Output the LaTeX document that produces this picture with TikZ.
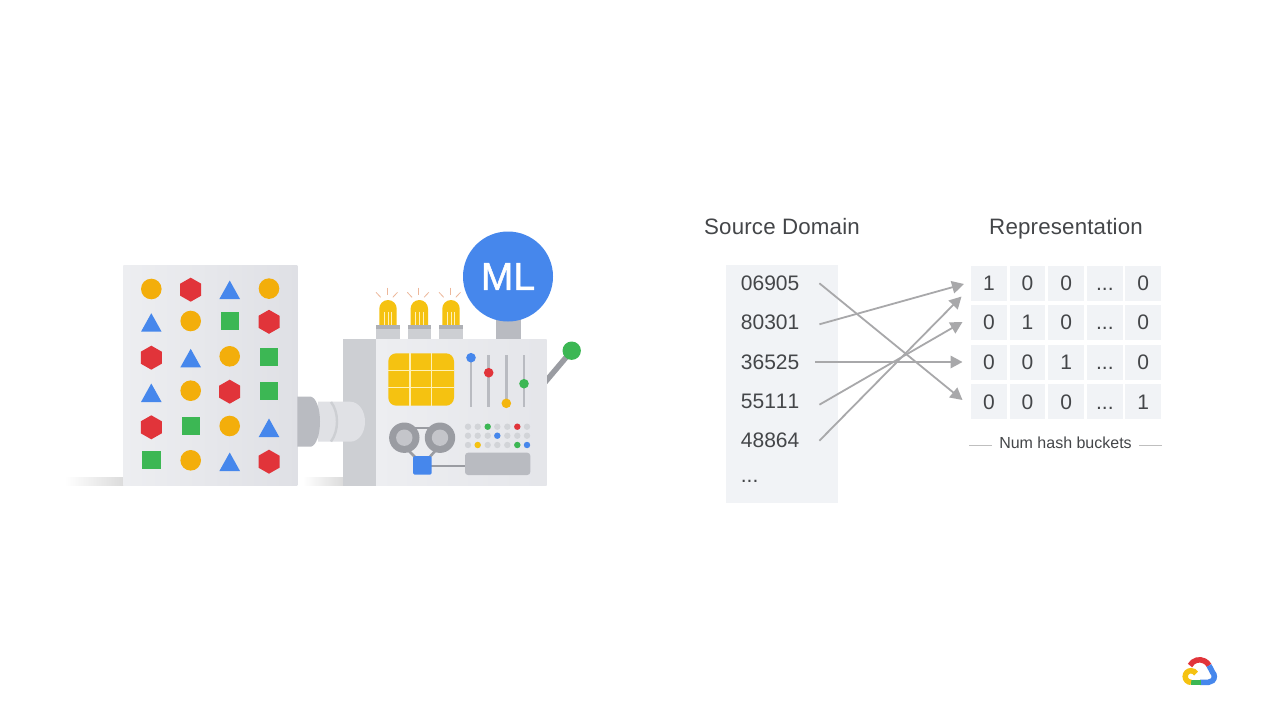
\documentclass[tikz,border=0pt]{standalone}
\usepackage{fontspec}
\setmainfont{Liberation Sans}[Kerning=Off]
\newfontfamily\headfont{Liberation Sans}[LetterSpace=0.8]
\newfontfamily\mlfont{Liberation Sans}[FakeBold=1.2]
\definecolor{gblue}{HTML}{4687EC}
\definecolor{gred}{HTML}{E1343A}
\definecolor{ggreen}{HTML}{3CB754}
\definecolor{gamber}{HTML}{F3AE0B}
\definecolor{gyell}{HTML}{F5C211}
\definecolor{cream}{HTML}{FFF1B8}
\definecolor{panelL}{HTML}{EDEEF1}
\definecolor{panelR}{HTML}{DFE0E5}
\definecolor{tubeg}{HTML}{E0E1E5}
\definecolor{darkg}{HTML}{B9BBC1}
\definecolor{midg}{HTML}{CDCFD3}
\definecolor{reelg}{HTML}{9A9CA2}
\definecolor{dotg}{HTML}{D2D4D8}
\definecolor{cellc}{HTML}{F1F3F6}
\definecolor{arrowc}{HTML}{A8A8AA}
\definecolor{txt}{HTML}{444649}
\definecolor{rayc}{HTML}{EDB79A}
\usetikzlibrary{arrows.meta}
\tikzset{
  x=1pt,y=-1pt,
  hexshape/.pic={\fill[gred] (0,-12)--(10.5,-6)--(10.5,6)--(0,12)--(-10.5,6)--(-10.5,-6)--cycle;},
  cirshape/.pic={\fill[gamber] (0,0) circle[radius=10.3];},
  trishape/.pic={\fill[gblue] (0,-8.5)--(10.3,10)--(-10.3,10)--cycle;},
  squshape/.pic={\fill[ggreen] (-9.2,-9.2) rectangle (9.2,9.2);},
  dotgray/.style={fill=dotg},
  slidertrack/.style={draw=darkg,line width=2.8pt},
  basecap/.style={fill=midg},
  ray/.style={draw=rayc,line width=0.8pt},
  belt/.style={draw=reelg,line width=2.6pt},
  digit/.style={font=\fontsize{21}{24}\selectfont,text=txt,inner sep=0pt},
  srctext/.style={digit,anchor=west,text width=78.3pt,align=left,minimum height=20pt},
  cell/.style={fill=cellc,minimum width=35.7pt,minimum height=35pt,inner sep=0pt,font=\fontsize{21}{24}\selectfont,text=txt},
  head/.style={font=\headfont\fontsize{22.3}{26}\selectfont,text=txt,inner sep=0pt,anchor=base},
  hasharrow/.style={draw=arrowc,line width=1.8pt,-{Triangle[length=12pt,width=12.5pt]}},
  tickline/.style={draw=black!25,line width=1pt},
  logoline/.style={line width=5.5pt},
}
\begin{document}
\begin{tikzpicture}
\useasboundingbox (0,0) rectangle (1280,720);
\fill[white] (0,0) rectangle (1280,720);
% floor shadows
\shade[left color=white,right color=black!14] (65,477) rectangle (123.5,485.7);
\shade[left color=white,right color=black!14] (303,477) rectangle (343,485.7);
% shapes panel
\shade[left color=panelL,right color=panelR] (123.3,265.3) rectangle (297.3,485.7);
\pic at (151.3,289) {cirshape}; \pic at (190.7,289.7) {hexshape}; \pic at (229.7,289) {trishape}; \pic at (269,288.6) {cirshape};
\pic at (151.3,321.7) {trishape}; \pic at (190.7,321) {cirshape}; \pic at (229.7,321) {squshape}; \pic at (269,321.8) {hexshape};
\pic at (151.3,357.7) {hexshape}; \pic at (190.7,357.3) {trishape}; \pic at (229.7,356.3) {cirshape}; \pic at (269,356.7) {squshape};
\pic at (151.3,392) {trishape}; \pic at (190.7,390.7) {cirshape}; \pic at (229.7,391.7) {hexshape}; \pic at (269,390.7) {squshape};
\pic at (151.3,427.3) {hexshape}; \pic at (190.7,426) {squshape}; \pic at (229.7,426) {cirshape}; \pic at (269,427) {trishape};
\pic at (151.3,460) {squshape}; \pic at (190.7,460.3) {cirshape}; \pic at (229.7,461) {trishape}; \pic at (269,461.7) {hexshape};
% lever
\draw[reelg,line width=5.5pt] (541,387) -- (571.7,350.7);
\fill[ggreen] (571.7,350.7) circle[radius=9.2];
% stem and ML head
\fill[darkg] (495.7,315) rectangle (520.7,339.5);
\node[circle,fill=gblue,minimum size=90pt,inner sep=0pt,text=white,font=\mlfont\fontsize{39}{40}\selectfont] (ml) at (508,276.5) {ML};
% bulbs
\foreach \bx in {388,419.3,451}{
  \fill[gyell] (\bx-8.7,326) -- (\bx-8.7,308.7) arc[start angle=180,end angle=360,radius=8.7] -- (\bx+8.7,326) -- cycle;
  \draw[cream,line width=0.9pt] (\bx-3.7,311.7) -- (\bx-3.7,326) (\bx,311.7) -- (\bx,326) (\bx+3.7,311.7) -- (\bx+3.7,326);
  \fill[basecap] (\bx-11.7,328) rectangle (\bx+11.7,339.5);
  \fill[reelg!80!white] (\bx-11.7,325.3) rectangle (\bx+11.7,328.5);
  \draw[ray] (\bx-1,287.7) -- (\bx-1,295);
  \draw[ray] (\bx-12,292.3) -- (\bx-7.3,297.3);
  \draw[ray] (\bx+9.5,292.3) -- (\bx+4.8,297.3);
}
% machine body
\fill[midg] (342.7,339) rectangle (376,485.7);
\shade[left color=panelL,right color=panelR!60!panelL] (376,339) rectangle (546.7,485.7);
% tube
\fill[tubeg] (318,401.7) -- (350,401.7) .. controls (359,401.7) and (365,411) .. (365,421.7) .. controls (365,432.5) and (359,441.7) .. (350,441.7) -- (318,441.7) -- cycle;
\draw[midg,line width=2.4pt] (331,402) .. controls (339,412) and (339,431) .. (331,441.5);
\fill[darkg] (297.3,396.7) -- (311,396.7) .. controls (316,398) and (320,408) .. (320,421.7) .. controls (320,435) and (316,445.5) .. (311,446.7) -- (297.3,446.7) -- cycle;
% chip
\fill[gyell,rounded corners=8pt] (388.3,353.3) rectangle (454,405.7);
\draw[cream,line width=1.2pt] (410,353.3) -- (410,405.7) (431.7,353.3) -- (431.7,405.7) (388.3,370.7) -- (454,370.7) (388.3,387.7) -- (454,387.7);
% sliders
\draw[slidertrack] (471,357) -- (471,406.7);
\draw[slidertrack] (488.7,355) -- (488.7,406.7);
\draw[slidertrack] (506.3,355) -- (506.3,406.7);
\draw[slidertrack] (524,355) -- (524,406.7);
\fill[gblue] (471,357.7) circle[radius=4.8];
\fill[gred] (488.7,372.7) circle[radius=4.8];
\fill[gamber!60!gyell] (506.3,403.3) circle[radius=4.8];
\fill[ggreen] (524,383.7) circle[radius=4.8];
% reels and belts
\draw[belt] (404.3,428) -- (440,428);
\draw[belt] (408,450) -- (418,460) (436,450) -- (427,460);
\draw[belt] (431,466) -- (466,466);
\fill[reelg] (404.3,437.7) circle[radius=15.2];
\fill[reelg] (440,437.7) circle[radius=15.2];
\fill[darkg!85!white] (404.3,437.7) circle[radius=8.2];
\fill[darkg!85!white] (440,437.7) circle[radius=8.2];
\fill[gblue,rounded corners=1.5pt] (413,456) rectangle (431.7,474.7);
\fill[darkg,rounded corners=3pt] (465,452.7) rectangle (530.3,475);
% dots
\foreach \dx in {468,477.7,487.7,497.3,507.3,517.3,527}{\foreach \dy in {426.7,435.7,445}{\fill[dotgray] (\dx,\dy) circle[radius=3.2];}}
\fill[ggreen] (487.7,426.7) circle[radius=3.2];
\fill[gred] (517.3,426.7) circle[radius=3.2];
\fill[gblue] (497.3,435.7) circle[radius=3.2];
\fill[gyell] (477.7,445) circle[radius=3.2];
\fill[ggreen] (517.3,445) circle[radius=3.2];
\fill[gblue] (527,445) circle[radius=3.2];
% source domain
\node[head] (hsrc) at (782,234) {Source Domain};
\node[head] (hrep) at (1066,234) {Representation};
\fill[cellc] (726,265) rectangle (838.3,502.7);
\node[srctext] (s1) at (740.7,283.3) {06905};
\node[srctext] (s2) at (740.7,322.7) {80301};
\node[srctext] (s3) at (740.7,362) {36525};
\node[srctext] (s4) at (740.7,401.3) {55111};
\node[srctext] (s5) at (740.7,440.7) {48864};
\node[digit,anchor=west] (s6) at (740.7,481.5) {...};
% table
\foreach \r/\ry/\va/\vb/\vc/\ve in {1/283.3/1/0/0/0,2/322.7/0/1/0/0,3/362.2/0/0/1/0,4/401.8/0/0/0/1}{
  \node[cell] (c\r a) at (988.9,\ry) {\va};
  \node[cell] (c\r b) at (1027.5,\ry) {\vb};
  \node[cell] (c\r c) at (1066.2,\ry) {\vc};
  \node[cell] (c\r d) at (1104.9,\ry) {\vphantom{0}...};
  \node[cell] (c\r e) at (1143.2,\ry) {\ve};
}
\node[inner sep=0pt,font=\fontsize{16}{18}\selectfont,text=txt] (nhb) at (1065.5,443) {Num hash buckets};
\coordinate (l1) at (969.3,445.3);
\coordinate (l2) at (1162.3,445.3);
\draw[tickline] (l1) -- (992,445.3);
\draw[tickline] (1139.3,445.3) -- (l2);
% arrows
\coordinate (a1) at (962.5,400);
\coordinate (a2) at (964,284);
\coordinate (a3) at (962.5,362);
\coordinate (a4) at (962.5,322);
\coordinate (a5) at (961.5,296.5);
\draw[hasharrow] (s1.east) -- (a1);
\draw[hasharrow] ([yshift=-1.6pt]s2.east) -- (a2);
\draw[hasharrow] ([xshift=-4pt]s3.east) -- (a3);
\draw[hasharrow] ([yshift=-3.4pt]s4.east) -- (a4);
\draw[hasharrow] (s5.east) -- (a5);
% cloud logo
\draw[logoline,gred] (1190,665.5) arc[start angle=208,end angle=332,radius=10.8];
\draw[logoline,gblue] (1209,665.5) -- (1212.6,672.4) arc[start angle=-45,end angle=90,radius=5.8] -- (1200,682.3);
\draw[logoline,ggreen] (1201,682.3) -- (1191,682.3);
\draw[logoline,gyell] (1191,682.3) arc[start angle=90,end angle=330,radius=5.8];
\end{tikzpicture}
\end{document}
